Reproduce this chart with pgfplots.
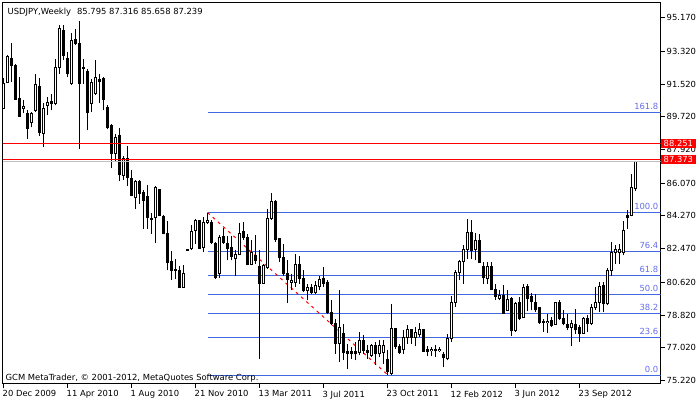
\documentclass[border=0pt]{standalone}
\usepackage{fontspec}
\setmainfont{DejaVu Sans}
\usepackage{pgfplots}
\usepackage{pgfplotstable}
\pgfplotsset{compat=1.18}
\definecolor{fibline}{RGB}{65,105,225}
\definecolor{fibtext}{RGB}{100,110,235}
\definecolor{bidgrey}{RGB}{192,192,192}
\definecolor{mtred}{RGB}{255,0,0}
\pgfplotstableread{
i O H L C
0 90.17 91.83 90.15 91.57
1 91.63 93.10 91.60 93.06
2 92.92 93.77 91.63 92.55
3 92.55 92.60 90.62 90.68
4 90.72 91.90 89.70 89.74
5 90.20 90.62 89.91 90.27
6 89.91 90.07 88.52 89.10
7 89.43 89.96 89.14 89.91
8 90.07 92.05 89.98 91.48
9 91.39 91.87 88.66 88.88
10 88.79 90.46 88.05 90.20
11 90.35 90.80 89.80 90.53
12 90.57 91.00 90.07 90.44
13 90.44 92.92 90.35 92.45
14 92.45 94.75 92.09 94.57
15 94.47 94.75 92.82 93.10
16 92.92 93.26 91.90 92.12
17 91.54 94.32 91.45 93.92
18 93.96 94.57 93.65 93.77
19 93.77 94.98 87.97 91.54
20 92.44 92.92 91.54 92.37
21 92.23 92.33 88.97 89.98
22 90.44 91.78 89.98 91.63
23 90.99 92.82 90.90 91.87
24 91.75 92.05 90.46 91.65
25 91.82 91.89 90.07 90.66
26 90.25 90.35 89.07 89.16
27 89.25 89.30 86.90 87.69
28 87.69 88.79 87.23 88.60
29 88.70 89.12 86.18 86.54
30 86.50 87.54 86.26 87.42
31 87.42 88.09 85.89 86.40
32 86.32 86.81 85.34 85.40
33 85.30 86.22 84.67 86.17
34 86.17 86.22 84.94 85.52
35 85.58 85.67 83.57 85.12
36 85.34 85.95 83.57 84.20
37 84.15 84.42 83.29 84.08
38 84.17 85.89 82.77 85.82
39 85.73 85.77 84.24 84.30
40 84.26 84.33 83.25 83.29
41 83.29 84.00 81.27 81.73
42 81.77 82.32 80.76 81.27
43 81.33 81.92 80.82 81.25
44 81.27 81.51 80.33 80.35
45 80.35 81.55 80.33 81.09
46 82.43 82.47 82.35 82.37
47 82.47 83.75 82.37 83.44
48 83.47 84.08 82.74 84.02
49 84.02 84.06 82.45 82.47
50 82.56 84.19 82.28 83.90
51 83.93 84.45 83.85 84.00
52 83.93 84.02 82.74 82.83
53 82.77 82.81 80.82 80.90
54 81.12 83.20 80.87 83.10
55 83.14 83.62 82.74 82.83
56 82.77 83.14 81.82 82.47
57 82.52 83.14 81.82 82.04
58 81.92 82.37 80.99 82.15
59 82.14 83.87 82.10 83.32
60 83.42 83.93 82.96 83.10
61 83.10 83.29 81.57 81.59
62 81.59 82.92 81.55 82.26
63 82.10 83.20 81.64 81.82
64 81.49 82.41 76.41 80.54
65 80.57 81.60 80.54 81.55
66 81.42 84.67 81.37 84.12
67 84.12 85.52 84.02 85.08
68 85.08 85.12 82.83 82.96
69 83.02 83.03 81.73 81.97
70 81.97 82.74 80.99 81.12
71 81.12 81.82 79.47 80.76
72 80.63 81.05 80.17 80.72
73 80.63 82.19 80.35 81.60
74 81.60 82.04 80.54 80.82
75 80.85 81.27 80.08 80.17
76 80.17 80.54 79.66 80.35
77 80.32 80.54 79.99 80.08
78 80.08 80.67 79.99 80.45
79 80.39 80.99 80.17 80.76
80 80.82 81.45 80.35 80.58
81 80.63 80.72 78.89 78.98
82 78.98 79.62 78.25 78.34
83 78.34 78.61 76.69 77.27
84 77.27 80.17 76.23 78.15
85 77.79 78.34 76.32 76.78
86 76.82 77.24 75.86 76.73
87 76.82 77.05 76.41 76.70
88 76.82 77.33 76.32 76.70
89 76.78 77.88 76.60 77.42
90 77.42 77.70 76.69 76.87
91 76.87 77.15 76.41 76.78
92 76.60 77.24 76.50 77.15
93 77.15 77.33 76.05 76.69
94 76.69 77.42 76.50 77.15
95 76.75 77.42 76.14 77.15
96 76.36 76.87 75.50 75.71
97 75.62 79.44 75.50 78.06
98 78.06 78.13 76.96 77.09
99 77.09 77.24 76.69 76.78
100 76.93 77.97 76.65 77.59
101 77.61 78.25 77.24 78.01
102 78.01 78.05 77.24 77.61
103 77.61 78.15 77.09 77.88
104 77.74 78.37 77.61 78.01
105 78.01 78.03 76.78 76.83
106 76.93 77.09 76.54 76.83
107 76.85 77.05 76.54 76.92
108 76.92 77.15 76.50 76.85
109 76.85 77.05 76.78 76.93
110 76.65 76.78 75.96 76.50
111 76.41 77.79 76.32 77.51
112 77.51 79.89 77.33 79.53
113 79.53 81.27 79.25 81.18
114 81.18 81.82 80.72 81.78
115 81.78 82.65 80.54 82.41
116 82.41 84.12 81.92 83.38
117 83.38 84.06 81.92 82.37
118 82.41 83.32 81.82 82.92
119 82.92 83.29 81.71 81.73
120 81.49 81.73 80.54 80.87
121 80.82 81.73 80.54 81.49
122 81.49 81.73 80.17 80.21
123 80.21 80.54 79.62 79.84
124 79.72 80.17 79.62 79.90
125 79.90 80.45 78.89 78.92
126 79.07 80.17 79.04 79.66
127 79.72 79.79 77.64 77.97
128 77.97 79.53 77.88 79.44
129 79.53 79.80 78.52 78.61
130 78.70 80.54 78.70 80.35
131 80.39 80.54 79.04 79.72
132 79.84 80.02 79.07 79.58
133 79.53 79.99 78.98 79.11
134 79.22 79.25 78.34 78.43
135 78.45 78.61 77.88 78.39
136 78.39 78.89 77.82 78.45
137 78.52 78.70 78.15 78.25
138 78.30 79.53 78.25 79.49
139 79.49 79.62 78.52 78.61
140 78.61 79.07 78.25 78.34
141 78.30 78.89 77.97 78.15
142 78.15 78.52 77.09 78.34
143 78.30 79.17 77.79 78.01
144 78.12 78.25 77.33 77.82
145 77.82 78.70 77.79 78.61
146 78.61 78.80 77.88 78.37
147 78.37 79.44 78.25 79.22
148 79.22 80.35 79.11 79.53
149 79.53 80.63 78.98 80.39
150 80.45 80.63 78.98 79.44
151 79.44 81.42 79.35 81.27
152 81.27 82.83 80.99 82.28
153 82.28 82.65 81.64 82.41
154 82.28 82.74 81.64 82.41
155 82.28 84.00 82.10 83.47
156 84.30 84.57 83.57 84.20
157 84.30 86.59 84.24 85.85
158 85.795 87.316 85.658 87.239
}\candles
\begin{document}
\begin{tikzpicture}[font=\fontsize{8.4bp}{10bp}\selectfont]
\path[use as bounding box, fill=white] (0,0) rectangle (700bp,402bp);
\begin{axis}[
  at={(2.5bp,18.5bp)}, anchor=south west,
  width=658bp, height=381bp, scale only axis,
  xmin=-0.25, xmax=164.25, ymin=75.054, ymax=96.008,
  clip mode=individual,
  axis line style={black, line width=1bp},
  tick align=outside, major tick length=4bp,
  tick style={black, line width=1bp},
  xtick pos=bottom, xticklabel pos=lower,
  ytick pos=right, yticklabel pos=right,
  xtick={0,16,32,48,64,80,96,112,128,144},
  xticklabels={20 Dec 2009,11 Apr 2010,1 Aug 2010,21 Nov 2010,13 Mar 2011,3 Jul 2011,23 Oct 2011,12 Feb 2012,3 Jun 2012,23 Sep 2012},
  ytick={75.22,77.02,78.82,80.62,82.47,84.27,86.07,87.92,89.72,91.52,93.32,95.17},
  yticklabels={75.220,77.020,78.820,80.620,82.470,84.270,86.070,87.920,89.720,91.520,93.320,95.170},
  xticklabel style={anchor=north west, inner sep=0pt, xshift=-1bp, yshift=-3bp, font=\fontsize{8.4bp}{10bp}\selectfont},
  yticklabel style={anchor=west, inner sep=0pt, xshift=2bp, font=\fontsize{8.4bp}{10bp}\selectfont},
]
% Fibonacci levels
\addplot[fibline, line width=1bp, forget plot] coordinates {(51,75.493) (164.25,75.493)};
\addplot[fibline, line width=1bp, forget plot] coordinates {(51,77.583) (164.25,77.583)};
\addplot[fibline, line width=1bp, forget plot] coordinates {(51,78.903) (164.25,78.903)};
\addplot[fibline, line width=1bp, forget plot] coordinates {(51,79.948) (164.25,79.948)};
\addplot[fibline, line width=1bp, forget plot] coordinates {(51,80.993) (164.25,80.993)};
\addplot[fibline, line width=1bp, forget plot] coordinates {(51,82.313) (164.25,82.313)};
\addplot[fibline, line width=1bp, forget plot] coordinates {(51,84.458) (164.25,84.458)};
\addplot[fibline, line width=1bp, forget plot] coordinates {(51,89.958) (164.25,89.958)};
% trend line
\addplot[mtred, line width=1bp, dash pattern=on 3bp off 4bp, forget plot] coordinates {(51,84.458) (96.25,75.493)};
% wicks
\addplot[draw=none, mark=none, forget plot,
  error bars/.cd, y dir=both, y explicit, error mark=none,
  error bar style={draw=black, line width=1bp}]
  table[x=i, y=L, y error plus expr={\thisrow{H}-\thisrow{L}}, y error minus expr={0}] {\candles};
% bodies
\addplot[draw=none, mark=none, forget plot,
  error bars/.cd, y dir=both, y explicit, error mark=none,
  error bar style={draw=black, line width=3bp}]
  table[x=i, y expr={min(\thisrow{O},\thisrow{C})-0.0275}, y error plus expr={abs(\thisrow{C}-\thisrow{O})+0.055}, y error minus expr={0}] {\candles};
% bullish interiors
\addplot[draw=none, mark=none, forget plot,
  error bars/.cd, y dir=both, y explicit, error mark=none,
  error bar style={draw=white, line width=1bp}]
  table[x=i, y expr={min(\thisrow{O},\thisrow{C})+0.0275}, y error plus expr={(\thisrow{C}>\thisrow{O})*max(abs(\thisrow{C}-\thisrow{O})-0.055,0)}, y error minus expr={0}] {\candles};
% horizontal price lines
\addplot[bidgrey, line width=1bp, forget plot] coordinates {(-0.25,87.263) (164.25,87.263)};
\addplot[mtred, line width=1bp, forget plot] coordinates {(-0.25,88.253) (164.25,88.253)};
\addplot[mtred, line width=1bp, forget plot] coordinates {(-0.25,87.373) (164.25,87.373)};
% fib labels
\node[anchor=base east, text=fibtext, inner sep=0pt, xshift=-2bp, yshift=3bp] at (axis cs:164.25,75.493) {0.0};
\node[anchor=base east, text=fibtext, inner sep=0pt, xshift=-2bp, yshift=3bp] at (axis cs:164.25,77.583) {23.6};
\node[anchor=base east, text=fibtext, inner sep=0pt, xshift=-2bp, yshift=3bp] at (axis cs:164.25,78.903) {38.2};
\node[anchor=base east, text=fibtext, inner sep=0pt, xshift=-2bp, yshift=3bp] at (axis cs:164.25,79.948) {50.0};
\node[anchor=base east, text=fibtext, inner sep=0pt, xshift=-2bp, yshift=3bp] at (axis cs:164.25,80.993) {61.8};
\node[anchor=base east, text=fibtext, inner sep=0pt, xshift=-2bp, yshift=3bp] at (axis cs:164.25,82.313) {76.4};
\node[anchor=base east, text=fibtext, inner sep=0pt, xshift=-2bp, yshift=3bp] at (axis cs:164.25,84.458) {100.0};
\node[anchor=base east, text=fibtext, inner sep=0pt, xshift=-2bp, yshift=3bp] at (axis cs:164.25,89.958) {161.8};
% price labels on the right scale
\node[anchor=west, fill=mtred, text=white, inner xsep=2.5bp, inner ysep=1.5bp, xshift=0.5bp] at (axis cs:164.25,88.251) {88.251};
\node[anchor=west, fill=mtred, text=white, inner xsep=2.5bp, inner ysep=1.5bp, xshift=0.5bp] at (axis cs:164.25,87.373) {87.373};
% texts
\node[anchor=north west, inner sep=0pt, xshift=5bp, yshift=-5bp] at (rel axis cs:0,1) {USDJPY,Weekly\hspace{6bp}85.795 87.316 85.658 87.239};
\node[anchor=base west, inner sep=0pt, xshift=3bp, yshift=3bp] at (rel axis cs:0,0) {GCM MetaTrader, © 2001-2012, MetaQuotes Software Corp.};
\end{axis}
\end{tikzpicture}
\end{document}
